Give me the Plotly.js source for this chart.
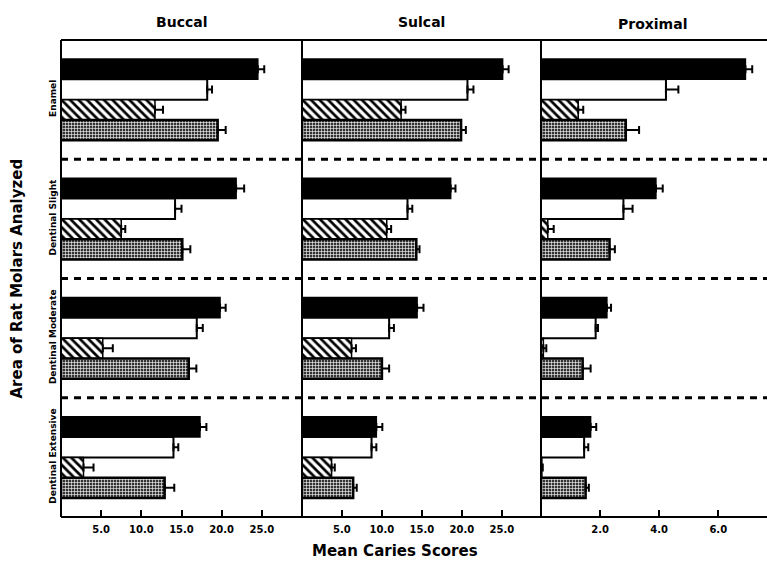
<!DOCTYPE html>
<html>
<head>
<meta charset="utf-8">
<script src="https://cdn.plot.ly/plotly-3.0.1.min.js"></script>
<style>html,body{margin:0;padding:0;background:#fff}#chart{width:767px;height:562px}</style>
</head>
<body>
<div id="chart"></div>
<script>
// ---- data ----
var categories = ['Enamel', 'Dentinal Slight', 'Dentinal Moderate', 'Dentinal Extensive'];
var panelTitles = ['Buccal', 'Sulcal', 'Proximal'];
var xTitle = 'Mean Caries Scores';
var yTitle = 'Area of Rat Molars Analyzed';

var buccalBlack = [24.5, 21.8, 19.8, 17.3];
var buccalBlackErr = [0.8, 1.0, 0.7, 0.8];
var buccalWhite = [18.2, 14.2, 16.9, 14.0];
var buccalWhiteErr = [0.6, 0.8, 0.75, 0.6];
var buccalHatched = [11.7, 7.5, 5.2, 2.8];
var buccalHatchedErr = [1.0, 0.5, 1.25, 1.25];
var buccalDotted = [19.5, 15.1, 15.9, 12.9];
var buccalDottedErr = [1.0, 1.0, 0.95, 1.2];

var sulcalBlack = [25.1, 18.6, 14.4, 9.3];
var sulcalBlackErr = [0.75, 0.6, 0.8, 0.75];
var sulcalWhite = [20.7, 13.2, 10.9, 8.7];
var sulcalWhiteErr = [0.75, 0.6, 0.6, 0.6];
var sulcalHatched = [12.4, 10.6, 6.2, 3.7];
var sulcalHatchedErr = [0.55, 0.55, 0.55, 0.4];
var sulcalDotted = [19.9, 14.3, 10.0, 6.4];
var sulcalDottedErr = [0.6, 0.4, 0.9, 0.45];

var proxBlack = [6.92, 3.89, 2.23, 1.68];
var proxBlackErr = [0.23, 0.23, 0.14, 0.19];
var proxWhite = [4.23, 2.79, 1.85, 1.46];
var proxWhiteErr = [0.42, 0.31, 0.08, 0.14];
var proxHatched = [1.26, 0.23, 0.08, 0.03];
var proxHatchedErr = [0.17, 0.2, 0.1, 0.03];
var proxDotted = [2.87, 2.32, 1.41, 1.51];
var proxDottedErr = [0.45, 0.18, 0.27, 0.11];

var buccalTickVals = [5, 10, 15, 20, 25];
var buccalTickText = ['5.0', '10.0', '15.0', '20.0', '25.0'];
var sulcalTickVals = [5, 10, 15, 20, 25];
var sulcalTickText = ['5.0', '10.0', '15.0', '20.0', '25.0'];
var proxTickVals = [2, 4, 6];
var proxTickText = ['2.0', '4.0', '6.0'];

// ---- styles ----
var FONT = 'DejaVu Sans, Arial, sans-serif';
var styles = [
  {color: '#000', line: {color: '#000', width: 1.5}},
  {color: '#fff', line: {color: '#000', width: 2}},
  {color: '#fff', line: {color: '#000', width: 1.5},
   pattern: {shape: '\\', fgcolor: '#000', bgcolor: '#fff', size: 6, solidity: 0.45}},
  {color: '#fff', line: {color: '#000', width: 2.5},
   pattern: {shape: '+', fgcolor: '#fff', bgcolor: '#333', size: 3, solidity: 0.35}}
];

function mk(vals, errs, k, xa) {
  return {
    type: 'bar', orientation: 'h',
    x: vals, y: categories,
    xaxis: xa, yaxis: 'y',
    marker: styles[k],
    error_x: {type: 'data', array: errs, arrayminus: vals.map(function(){return 0;}),
              symmetric: false, color: '#000', thickness: 2, width: 4},
    hoverinfo: 'x', showlegend: false
  };
}

var data = [
  mk(buccalBlack, buccalBlackErr, 0, 'x'),
  mk(buccalWhite, buccalWhiteErr, 1, 'x'),
  mk(buccalHatched, buccalHatchedErr, 2, 'x'),
  mk(buccalDotted, buccalDottedErr, 3, 'x'),
  mk(sulcalBlack, sulcalBlackErr, 0, 'x2'),
  mk(sulcalWhite, sulcalWhiteErr, 1, 'x2'),
  mk(sulcalHatched, sulcalHatchedErr, 2, 'x2'),
  mk(sulcalDotted, sulcalDottedErr, 3, 'x2'),
  mk(proxBlack, proxBlackErr, 0, 'x3'),
  mk(proxWhite, proxWhiteErr, 1, 'x3'),
  mk(proxHatched, proxHatchedErr, 2, 'x3'),
  mk(proxDotted, proxDottedErr, 3, 'x3')
];

var W = 706; // plot width in px
function px(p) { return (p - 61) / W; }
var tickFont = {family: FONT, size: 10, color: '#000', weight: 700};

function xax(dom, rng, tv, tt) {
  return {
    domain: dom, range: rng, anchor: 'y', showgrid: false, zeroline: false,
    showline: false, ticks: 'inside', ticklen: 7, tickwidth: 2, tickcolor: '#000',
    tickvals: tv, ticktext: tt, tickfont: tickFont, ticklabelstandoff: 5, fixedrange: true
  };
}

var layout = {
  width: 767, height: 562,
  margin: {l: 61, r: 0, t: 40, b: 45},
  paper_bgcolor: '#fff', plot_bgcolor: '#fff',
  barmode: 'group', bargap: 0.32, bargroupgap: 0,
  showlegend: false,
  font: {family: FONT, color: '#000'},
  xaxis: xax([0, px(302)], [0, 30], buccalTickVals, buccalTickText),
  xaxis2: xax([px(302), px(541)], [0, 29.9], sulcalTickVals, sulcalTickText),
  xaxis3: xax([px(541), 1], [0, 7.65], proxTickVals, proxTickText),
  yaxis: {
    type: 'category', categoryarray: categories, categoryorder: 'array',
    range: [3.5, -0.5], showgrid: false, zeroline: false, showline: false,
    ticks: '', tickangle: -90, tickfont: {family: FONT, size: 9, color: '#000', weight: 700},
    ticklabelstandoff: 2, fixedrange: true
  },
  shapes: [
    // frame
    {type: 'line', xref: 'paper', yref: 'paper', x0: 0, x1: 1, y0: 1, y1: 1, line: {color: '#000', width: 2}},
    {type: 'line', xref: 'paper', yref: 'paper', x0: 0, x1: 1, y0: 0, y1: 0, line: {color: '#000', width: 2}},
    {type: 'line', xref: 'paper', yref: 'paper', x0: 0, x1: 0, y0: 0, y1: 1, line: {color: '#000', width: 2}},
    {type: 'line', xref: 'paper', yref: 'paper', x0: px(302), x1: px(302), y0: 0, y1: 1, line: {color: '#000', width: 2}},
    {type: 'line', xref: 'paper', yref: 'paper', x0: px(541), x1: px(541), y0: 0, y1: 1, line: {color: '#000', width: 2}},
    // dashed group separators
    {type: 'line', xref: 'paper', yref: 'y', x0: 0, x1: 1, y0: 0.5, y1: 0.5, line: {color: '#000', width: 3, dash: '7px,6px'}},
    {type: 'line', xref: 'paper', yref: 'y', x0: 0, x1: 1, y0: 1.5, y1: 1.5, line: {color: '#000', width: 3, dash: '7px,6px'}},
    {type: 'line', xref: 'paper', yref: 'y', x0: 0, x1: 1, y0: 2.5, y1: 2.5, line: {color: '#000', width: 3, dash: '7px,6px'}}
  ],
  annotations: [
    {text: panelTitles[0], xref: 'paper', yref: 'paper', x: px(181), y: (517 - 22) / 477, showarrow: false,
     xanchor: 'center', yanchor: 'middle', font: {family: FONT, size: 14, weight: 700, color: '#000'}},
    {text: panelTitles[1], xref: 'paper', yref: 'paper', x: px(421), y: (517 - 22) / 477, showarrow: false,
     xanchor: 'center', yanchor: 'middle', font: {family: FONT, size: 14, weight: 700, color: '#000'}},
    {text: panelTitles[2], xref: 'paper', yref: 'paper', x: px(652), y: (517 - 24) / 477, showarrow: false,
     xanchor: 'center', yanchor: 'middle', font: {family: FONT, size: 14, weight: 700, color: '#000'}},
    {text: xTitle, xref: 'paper', yref: 'paper', x: px(395), y: (517 - 551) / 477, showarrow: false,
     xanchor: 'center', yanchor: 'middle', font: {family: FONT, size: 15, weight: 700, color: '#000'}},
    {text: yTitle, xref: 'paper', yref: 'paper', x: px(16), y: 0.5, showarrow: false, textangle: -90,
     xanchor: 'center', yanchor: 'middle', font: {family: FONT, size: 15, weight: 700, color: '#000'}}
  ]
};

Plotly.newPlot('chart', data, layout, {staticPlot: true, displayModeBar: false});
</script>
</body>
</html>
